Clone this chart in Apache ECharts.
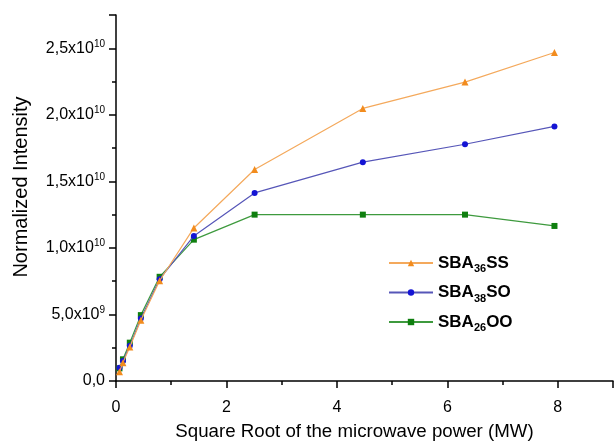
<!DOCTYPE html>
<html>
<head>
<meta charset="utf-8">
<script src="https://cdn.jsdelivr.net/npm/echarts@6/dist/echarts.min.js"></script>
<style>html,body{margin:0;padding:0;background:#fff}#c{width:614px;height:443px}</style>
</head>
<body>
<div id="c"></div>
<script>
var xValues = [0.063, 0.126, 0.25, 0.45, 0.79, 1.41, 2.51, 4.47, 6.32, 7.94];
var seriesNames = ['SBA36SS', 'SBA38SO', 'SBA26OO'];
var legendLabels = ['SBA{sub|36}SS', 'SBA{sub|38}SO', 'SBA{sub|26}OO'];
var ssValues = [0.70e9, 1.38e9, 2.56e9, 4.57e9, 7.53e9, 1.150e10, 1.589e10, 2.048e10, 2.246e10, 2.468e10];
var soValues = [1.00e9, 1.50e9, 2.64e9, 4.70e9, 7.65e9, 1.090e10, 1.413e10, 1.644e10, 1.779e10, 1.913e10];
var ooValues = [0.95e9, 1.63e9, 2.88e9, 4.95e9, 7.83e9, 1.062e10, 1.250e10, 1.250e10, 1.250e10, 1.165e10];
var xTicks = [0, 2, 4, 6, 8];
var yTickLabels = {0: '0,0', 5e9: '5,0x10{sup|9}', 1e10: '1,0x10{sup|10}', 1.5e10: '1,5x10{sup|10}', 2e10: '2,0x10{sup|10}', 2.5e10: '2,5x10{sup|10}'};

function pairs(vals) { return xValues.map(function (x, i) { return [x, vals[i]]; }); }

var FONT = '"Liberation Sans", Arial, sans-serif';
var chart = echarts.init(document.getElementById('c'), null, {renderer: 'canvas'});
var legendMap = {};
seriesNames.forEach(function (n, i) { legendMap[n] = legendLabels[i]; });

chart.setOption({
  animation: false,
  backgroundColor: '#ffffff',
  grid: {left: 116, right: 1, top: 15, bottom: 62, containLabel: false, outerBoundsMode: 'none'},
  legend: {
    orient: 'vertical',
    left: 383,
    top: 249.5,
    itemWidth: 44,
    itemHeight: 8,
    itemGap: 9.5,
    data: seriesNames,
    formatter: function (n) { return legendMap[n]; },
    textStyle: {
      fontFamily: FONT, fontSize: 17, fontWeight: 'bold', color: '#000',
      rich: {
        sub: {fontFamily: FONT, fontSize: 11, fontWeight: 'bold', color: '#000', padding: [12, 0, 0, 0]}
      }
    }
  },
  xAxis: {
    type: 'value',
    min: 0, max: 9, interval: 2,
    name: 'Square Root of the microwave power (MW)',
    nameLocation: 'middle',
    nameGap: 41,
    nameTextStyle: {fontFamily: FONT, fontSize: 18.7, color: '#000', padding: [0, 20, 0, 0]},
    axisLine: {show: true, onZero: false, lineStyle: {color: '#000', width: 1.5}},
    axisTick: {show: true, length: 7, lineStyle: {color: '#000', width: 1.5}},
    minorTick: {show: true, splitNumber: 2, length: 4, lineStyle: {color: '#000', width: 1.5}},
    splitLine: {show: false},
    axisLabel: {fontFamily: FONT, fontSize: 16, color: '#000', margin: 19, showMaxLabel: false,
      formatter: function (v) { return xTicks.indexOf(v) >= 0 ? String(v) : ''; }}
  },
  yAxis: {
    type: 'value',
    min: 0, max: 2.75e10, interval: 5e9,
    name: 'Normalized Intensity',
    nameLocation: 'middle',
    nameGap: 85,
    nameTextStyle: {fontFamily: FONT, fontSize: 20, color: '#000', padding: [0, 0, 0, 22]},
    axisLine: {show: true, onZero: false, lineStyle: {color: '#000', width: 1.5}},
    axisTick: {show: true, length: 7, lineStyle: {color: '#000', width: 1.5}},
    minorTick: {show: true, splitNumber: 2, length: 4, lineStyle: {color: '#000', width: 1.5}},
    splitLine: {show: false},
    axisLabel: {fontFamily: FONT, fontSize: 16, color: '#000', margin: 11, showMaxLabel: false,
      formatter: function (v) { return yTickLabels[v] !== undefined ? yTickLabels[v] : ''; },
      rich: {sup: {fontFamily: FONT, fontSize: 10, color: '#000', padding: [0, 0, 9, 0]}}}
  },
  series: [
    {name: seriesNames[0], type: 'line', data: pairs(ssValues), symbol: 'triangle', symbolSize: 7,
      lineStyle: {color: '#F4A95C', width: 1.2}, itemStyle: {color: '#F28C1E'}, z: 3},
    {name: seriesNames[1], type: 'line', data: pairs(soValues), symbol: 'circle', symbolSize: 6,
      lineStyle: {color: '#5656B8', width: 1.2}, itemStyle: {color: '#1414D4'}, z: 2},
    {name: seriesNames[2], type: 'line', data: pairs(ooValues), symbol: 'rect', symbolSize: 6,
      lineStyle: {color: '#3E9A3E', width: 1.2}, itemStyle: {color: '#0F7F0F'}, z: 1}
  ]
});
</script>
</body>
</html>
